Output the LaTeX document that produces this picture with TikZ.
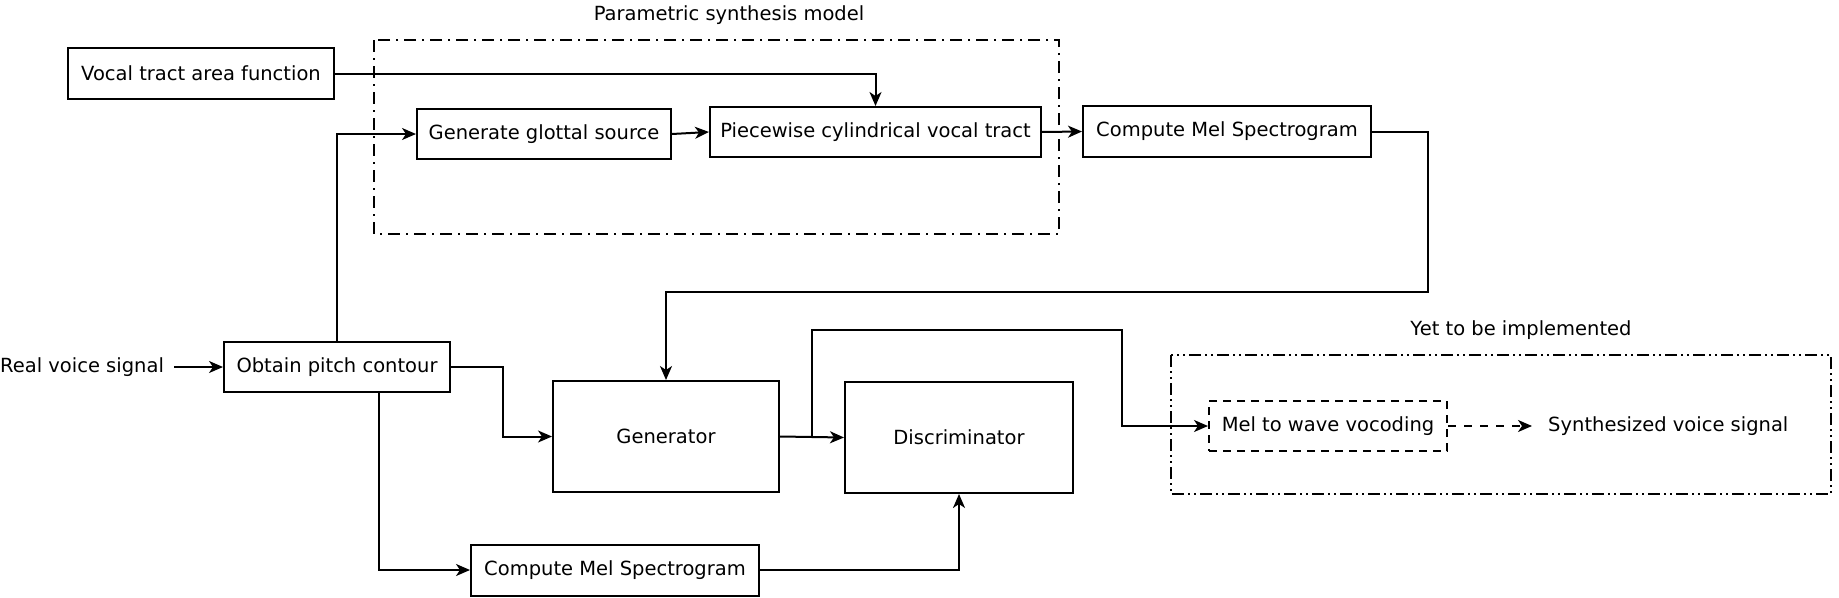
\documentclass[tikz,border=0pt]{standalone}
\usepackage{fontspec}
\setmainfont{DejaVu Sans}
\usetikzlibrary{arrows.meta}
\begin{document}
\begin{tikzpicture}[x=1pt,y=-1pt,
  every node/.style={font=\fontsize{19.5}{23}\selectfont},
  box/.style={draw,line width=2pt,inner sep=0pt,align=center},
  conn/.style={line width=2pt,-{Stealth[length=14pt,width=12pt,inset=4pt]}},
  dashdotbox/.style={line width=2pt,dash pattern=on 12pt off 6pt on 2pt off 6pt},
  dashdotdotbox/.style={line width=2pt,dash pattern=on 12pt off 4pt on 2pt off 4pt on 2pt off 4pt},
  plain/.style={inner sep=0pt}]
\useasboundingbox (0,0) rectangle (1839,597);
\fill[white] (0,0) rectangle (1839,597);

% group frames
\draw[dashdotbox] (374,40) rectangle (1059,234);
\draw[dashdotdotbox] (1171,355) rectangle (1831,494);
\node[plain] (paramlbl) at (729,15) {Parametric synthesis model};
\node[plain] (yetlbl) at (1521,330) {Yet to be implemented};

% boxes
\node[box,minimum width=266pt,minimum height=51pt] (vocal) at (201,73.5) {Vocal tract area function};
\node[box,minimum width=254pt,minimum height=50pt] (glottal) at (544,134) {Generate glottal source};
\node[box,minimum width=331pt,minimum height=50pt] (piece) at (875.5,132) {Piecewise cylindrical vocal tract};
\node[box,minimum width=288pt,minimum height=51pt] (meltop) at (1227,131.5) {Compute Mel Spectrogram};
\node[box,minimum width=226pt,minimum height=50pt] (obtain) at (337,367) {Obtain pitch contour};
\node[box,minimum width=226pt,minimum height=111pt] (gen) at (666,436.5) {Generator};
\node[box,minimum width=228pt,minimum height=111pt] (disc) at (959,437.5) {Discriminator};
\node[box,minimum width=288pt,minimum height=51pt] (melbot) at (615,570) {Compute Mel Spectrogram};
\node[box,dash pattern=on 8pt off 6pt,minimum width=238pt,minimum height=50pt] (vocode) at (1328,426) {Mel to wave vocoding};
\node[plain,anchor=west] (real) at (0,367) {Real voice signal};
\node[plain,anchor=west] (synth) at (1548,426) {Synthesized voice signal};

% connectors
\coordinate (c1) at (1428,292);
\coordinate (b1) at (812,436.5);
\coordinate (b2) at (1122,330);

\draw[conn] (vocal.east) -| (piece.north);
\draw[conn] (obtain.north) |- (glottal.west);
\draw[conn] (glottal.east) -- (piece.west);
\draw[conn] (piece.east) -- (meltop.west);
\draw[conn] (meltop.east) -| (c1) -| (gen.north);
\draw[conn] ([xshift=10pt]real.east) -- (obtain.west);
\draw[conn] (obtain.east) -- ++(52,0) |- (gen.west);
\draw[conn] ([xshift=42pt]obtain.south) |- (melbot.west);
\draw[conn] (gen.east) -- (disc.west);
\draw[conn] (b1) |- (b2) |- (vocode.west);
\draw[conn] (melbot.east) -| (disc.south);
\draw[conn,dash pattern=on 8pt off 8pt] (vocode.east) -- ([xshift=-16pt]synth.west);
\end{tikzpicture}
\end{document}
